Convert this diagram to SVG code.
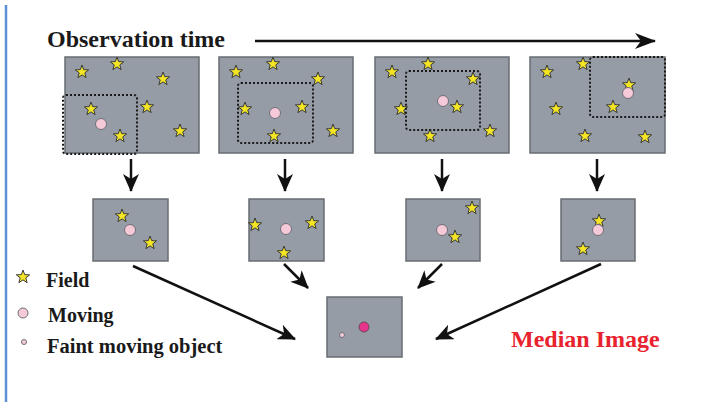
<svg xmlns="http://www.w3.org/2000/svg" xmlns:xlink="http://www.w3.org/1999/xlink" width="701" height="412" viewBox="0 0 701 412">
<style>
.panel{fill:#959ca5;stroke:#686c72;stroke-width:1.5}
.win{fill:none;stroke:#1a1a1a;stroke-width:2;stroke-dasharray:2 2}
.pink{fill:#f5c9d8;stroke:#6f6f78;stroke-width:1}
.lbl{font-family:"Liberation Serif","Times New Roman",serif;font-weight:bold;fill:#1a1a1a}
.conn{stroke:#111;stroke-width:2.5;fill:none}
</style>
<defs>
<path id="star" d="M0,-7 L1.71,-2.35 L6.66,-2.16 L2.77,0.9 L4.11,5.66 L0,2.9 L-4.11,5.66 L-2.77,0.9 L-6.66,-2.16 L-1.71,-2.35 Z" fill="#f4e625" stroke="#3a3a3a" stroke-width="1" stroke-linejoin="round"/>
<marker id="ah" viewBox="0 0 18 16" refX="17" refY="8" markerWidth="18" markerHeight="16" markerUnits="userSpaceOnUse" orient="auto">
<path d="M0,0 L18,8 L0,16 L5,8 Z" fill="#111"/>
</marker>
<marker id="ahBig" viewBox="0 0 21 16" refX="20" refY="8" markerWidth="21" markerHeight="16" markerUnits="userSpaceOnUse" orient="auto">
<path d="M0,0 L21,8 L0,16 L6,8 Z" fill="#111"/>
</marker>
</defs>
<rect width="701" height="412" fill="#fff"/>
<line x1="6" y1="5" x2="6" y2="402" stroke="#5b8fd6" stroke-width="2.5"/>

<g id="title">
<text class="lbl" x="47" y="47" font-size="24">Observation time</text>
</g>

<g id="connectors">
<line class="conn" x1="255" y1="41" x2="655" y2="41" stroke-width="2" marker-end="url(#ahBig)"/>
<line class="conn" x1="131" y1="159" x2="131" y2="191" marker-end="url(#ah)"/>
<line class="conn" x1="285" y1="159" x2="285" y2="191" marker-end="url(#ah)"/>
<line class="conn" x1="442" y1="159" x2="442" y2="191" marker-end="url(#ah)"/>
<line class="conn" x1="597" y1="159" x2="597" y2="191" marker-end="url(#ah)"/>
<line class="conn" x1="133" y1="266" x2="295" y2="339" marker-end="url(#ah)"/>
<line class="conn" x1="284" y1="264" x2="308" y2="288" marker-end="url(#ah)"/>
<line class="conn" x1="442" y1="264" x2="418" y2="288" marker-end="url(#ah)"/>
<line class="conn" x1="601" y1="264" x2="436" y2="339" marker-end="url(#ah)"/>
</g>

<g id="frame1">
<rect class="panel" x="65" y="57" width="134" height="96"/>
<use xlink:href="#star" x="82" y="72"/><use xlink:href="#star" x="117" y="64"/><use xlink:href="#star" x="163" y="79"/>
<use xlink:href="#star" x="91" y="109"/><use xlink:href="#star" x="147" y="107"/><use xlink:href="#star" x="120" y="136"/><use xlink:href="#star" x="180" y="131"/>
<circle class="pink" cx="101" cy="124" r="5.5"/>
<rect class="win" x="63" y="95" width="74" height="59" rx="3"/>
</g>
<g id="frame2">
<rect class="panel" x="219" y="57" width="134" height="96"/>
<use xlink:href="#star" x="236" y="72"/><use xlink:href="#star" x="273" y="64"/><use xlink:href="#star" x="318" y="79"/>
<use xlink:href="#star" x="245" y="109"/><use xlink:href="#star" x="302" y="107"/><use xlink:href="#star" x="274" y="136"/><use xlink:href="#star" x="333" y="131"/>
<circle class="pink" cx="275" cy="113" r="5.5"/>
<rect class="win" x="238" y="83" width="75" height="60" rx="3"/>
</g>
<g id="frame3">
<rect class="panel" x="375" y="57" width="134" height="96"/>
<use xlink:href="#star" x="392" y="72"/><use xlink:href="#star" x="428" y="64"/><use xlink:href="#star" x="473" y="79"/>
<use xlink:href="#star" x="401" y="109"/><use xlink:href="#star" x="457" y="107"/><use xlink:href="#star" x="430" y="136"/><use xlink:href="#star" x="490" y="131"/>
<circle class="pink" cx="443" cy="101" r="5.5"/>
<rect class="win" x="406" y="71" width="74" height="59" rx="3"/>
</g>
<g id="frame4">
<rect class="panel" x="530" y="57" width="135" height="96"/>
<use xlink:href="#star" x="547" y="72"/><use xlink:href="#star" x="583" y="64"/><use xlink:href="#star" x="629" y="85"/>
<use xlink:href="#star" x="556" y="109"/><use xlink:href="#star" x="613" y="107"/><use xlink:href="#star" x="585" y="136"/><use xlink:href="#star" x="645" y="137"/>
<circle class="pink" cx="628" cy="93" r="5.5"/>
<rect class="win" x="590" y="57" width="75" height="60" rx="3"/>
</g>

<g id="crop1">
<rect class="panel" x="93" y="199" width="75" height="62"/>
<use xlink:href="#star" x="122" y="216"/><use xlink:href="#star" x="150" y="243"/>
<circle class="pink" cx="130" cy="230" r="5.5"/>
</g>
<g id="crop2">
<rect class="panel" x="249" y="199" width="75" height="62"/>
<use xlink:href="#star" x="255" y="225"/><use xlink:href="#star" x="312" y="223"/><use xlink:href="#star" x="284" y="253"/>
<circle class="pink" cx="286" cy="229" r="5.5"/>
</g>
<g id="crop3">
<rect class="panel" x="406" y="199" width="74" height="62"/>
<use xlink:href="#star" x="472" y="208"/><use xlink:href="#star" x="455" y="237"/>
<circle class="pink" cx="442" cy="230" r="5.5"/>
</g>
<g id="crop4">
<rect class="panel" x="561" y="199" width="74" height="62"/>
<use xlink:href="#star" x="599" y="221"/><use xlink:href="#star" x="583" y="249"/>
<circle class="pink" cx="598" cy="230" r="5.5"/>
</g>

<g id="median">
<rect class="panel" x="327" y="297" width="75" height="60"/>
<circle class="pink" cx="342" cy="335" r="2.5"/>
<circle cx="364" cy="327" r="5" fill="#e6338c" stroke="#6f4a5a" stroke-width="1"/>
<text x="511" y="347" font-size="24" font-family="'Liberation Serif','Times New Roman',serif" font-weight="bold" fill="#e8232e">Median Image</text>
</g>

<g id="legend">
<use xlink:href="#star" x="23" y="277"/>
<text class="lbl" x="46" y="287" font-size="20">Field</text>
<circle class="pink" cx="23" cy="313" r="5"/>
<text class="lbl" x="48" y="322" font-size="20">Moving</text>
<circle class="pink" cx="24" cy="342" r="2.5"/>
<text class="lbl" x="47" y="353" font-size="20.5">Faint moving object</text>
</g>
</svg>
